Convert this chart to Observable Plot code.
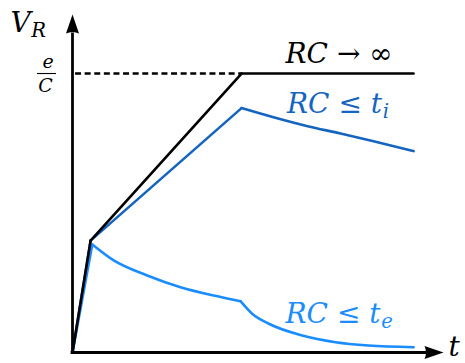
<!DOCTYPE html>
<html>
<head>
<meta charset="utf-8">
<script src="https://cdn.jsdelivr.net/npm/d3@7"></script>
<script src="https://cdn.jsdelivr.net/npm/@observablehq/plot@0.6"></script>
<style>
  html, body { margin: 0; padding: 0; background: #fff; }
  svg { display: block; }
  svg text, svg tspan { font-family: "DejaVu Serif", serif !important; }
</style>
</head>
<body>
<div id="chart"></div>
<script>
// ---- data (time in units of t_i, voltage in units of e/C) ----
const blackT = [0, 0.107, 1, 2.018];
const blackV = [0, 0.401, 1, 1];
const blackBreaks = [0, 1, 2, 3];

const darkT = [0, 0.107, 1, 1.189, 1.391, 1.586, 1.781, 2.018];
const darkV = [0, 0.401, 0.876, 0.843, 0.811, 0.785, 0.757, 0.722];
const darkBreaks = [0, 1, 2, 7];

const lightT = [0, 0.117, 0.244, 0.442, 0.639, 0.836, 0.994, 1.063, 1.162, 1.359, 1.556, 1.751, 2.018];
const lightV = [0, 0.387, 0.330, 0.276, 0.234, 0.204, 0.184, 0.139, 0.103, 0.061, 0.037, 0.025, 0.019];
const lightBreaks = [0, 1, 6, 12];

const dashX1 = [0.018];
const dashX2 = [1];
const dashY = [1];

const fracX1 = [-0.207];
const fracX2 = [-0.095];
const fracY = [1];

const labelText  = ["V_R", "e", "C", "RC → ∞", "RC ≤ t_i", "RC ≤ t_e", "t"];
const labelX     = [-0.367, -0.178, -0.203, 1.260, 1.269, 1.260, 2.225];
const labelY     = [1.147, 1.0215, 0.932, 1.039, 0.857, 0.104, -0.012];
const labelColor = ["#000", "#000", "#000", "#000", "#1565c0", "#1a8cff", "#000"];
const labelSize  = [28, 19, 19, 28, 28, 28, 28];

const xMax = 2.195, yMax = 1.2115;
const axisXEnd = 2.10, axisYEnd = 1.14;

const colBlack = "#000", colDark = "#1565c0", colLight = "#1a8cff";

// ---- build tables ----
function segRows(T, V, breaks) {
  const rows = [];
  for (let s = 0; s < breaks.length - 1; s++) {
    for (let i = breaks[s]; i <= breaks[s + 1]; i++) rows.push({t: T[i], v: V[i], seg: s});
  }
  return rows;
}
const blackRows = segRows(blackT, blackV, blackBreaks);
const darkRows = segRows(darkT, darkV, darkBreaks);
const lightRows = segRows(lightT, lightV, lightBreaks);
const labels = labelText.map((s, i) => ({s, x: labelX[i], y: labelY[i], c: labelColor[i], f: labelSize[i]}));
const dash = dashY.map((y, i) => ({x1: dashX1[i], x2: dashX2[i], y}));
const frac = fracY.map((y, i) => ({x1: fracX1[i], x2: fracX2[i], y}));

const head = {
  draw(ctx) {
    ctx.moveTo(0, 0);
    ctx.lineTo(-6.5, 19);
    ctx.quadraticCurveTo(0, 16, 6.5, 19);
    ctx.closePath();
  }
};

const lineOpts = (stroke) => ({x: "t", y: "v", z: "seg", stroke, strokeWidth: 2.6, curve: "monotone-x", strokeLinecap: "round", strokeLinejoin: "round"});

const chart = Plot.plot({
  width: 465,
  height: 363,
  marginLeft: 72,
  marginRight: 22,
  marginTop: 14,
  marginBottom: 11,
  x: {domain: [0, xMax], axis: null},
  y: {domain: [0, yMax], axis: null},
  color: {type: "identity"},
  style: {background: "#fff", overflow: "visible"},
  marks: [
    Plot.ruleY(dash, {x1: "x1", x2: "x2", y: "y", stroke: "#000", strokeWidth: 2.6, strokeDasharray: "6,3.6"}),
    Plot.line(lightRows, lineOpts(colLight)),
    Plot.line(darkRows, lineOpts(colDark)),
    Plot.line(blackRows, lineOpts(colBlack)),
    Plot.ruleX([0], {y1: 0, y2: axisYEnd, stroke: "#000", strokeWidth: 2.8, strokeLinecap: "square"}),
    Plot.ruleY([0], {x1: 0, x2: axisXEnd, stroke: "#000", strokeWidth: 2.8, strokeLinecap: "square"}),
    Plot.dot([{x: 0, y: yMax}], {x: "x", y: "y", symbol: head, fill: "#000", stroke: null, r: 6}),
    Plot.dot([{x: xMax, y: 0}], {x: "x", y: "y", symbol: head, fill: "#000", stroke: null, r: 6, rotate: 90}),
    Plot.ruleY(frac, {x1: "x1", x2: "x2", y: "y", stroke: "#000", strokeWidth: 1.1}),
    Plot.text(labels, {x: "x", y: "y", text: "s", fill: "c", fontSize: "f", textAnchor: "start", lineAnchor: "bottom", clip: false})
  ]
});

// rich text: letters italic, "_x" subscript
d3.select(chart).selectAll("text").each(function() {
  const node = this;
  const s = node.textContent;
  const fs = parseFloat(node.getAttribute("font-size")) || 28;
  node.textContent = "";
  let i = 0, lowered = false;
  const ns = "http://www.w3.org/2000/svg";
  while (i < s.length) {
    const ch = s[i];
    const ts = document.createElementNS(ns, "tspan");
    if (ch === "_" && i + 1 < s.length) {
      ts.textContent = s[i + 1];
      ts.setAttribute("font-style", "italic");
      ts.setAttribute("font-size", (fs * 0.7).toFixed(1));
      ts.setAttribute("dy", (fs * 0.17).toFixed(1));
      ts.setAttribute("dx", (fs * 0.02).toFixed(1));
      lowered = true;
      i += 2;
    } else {
      ts.textContent = ch;
      if (/[A-Za-z]/.test(ch)) ts.setAttribute("font-style", "italic");
      if (lowered) { ts.setAttribute("dy", (-fs * 0.17).toFixed(1)); lowered = false; }
      i += 1;
    }
    node.appendChild(ts);
  }
});

document.getElementById("chart").appendChild(chart);
</script>
</body>
</html>
